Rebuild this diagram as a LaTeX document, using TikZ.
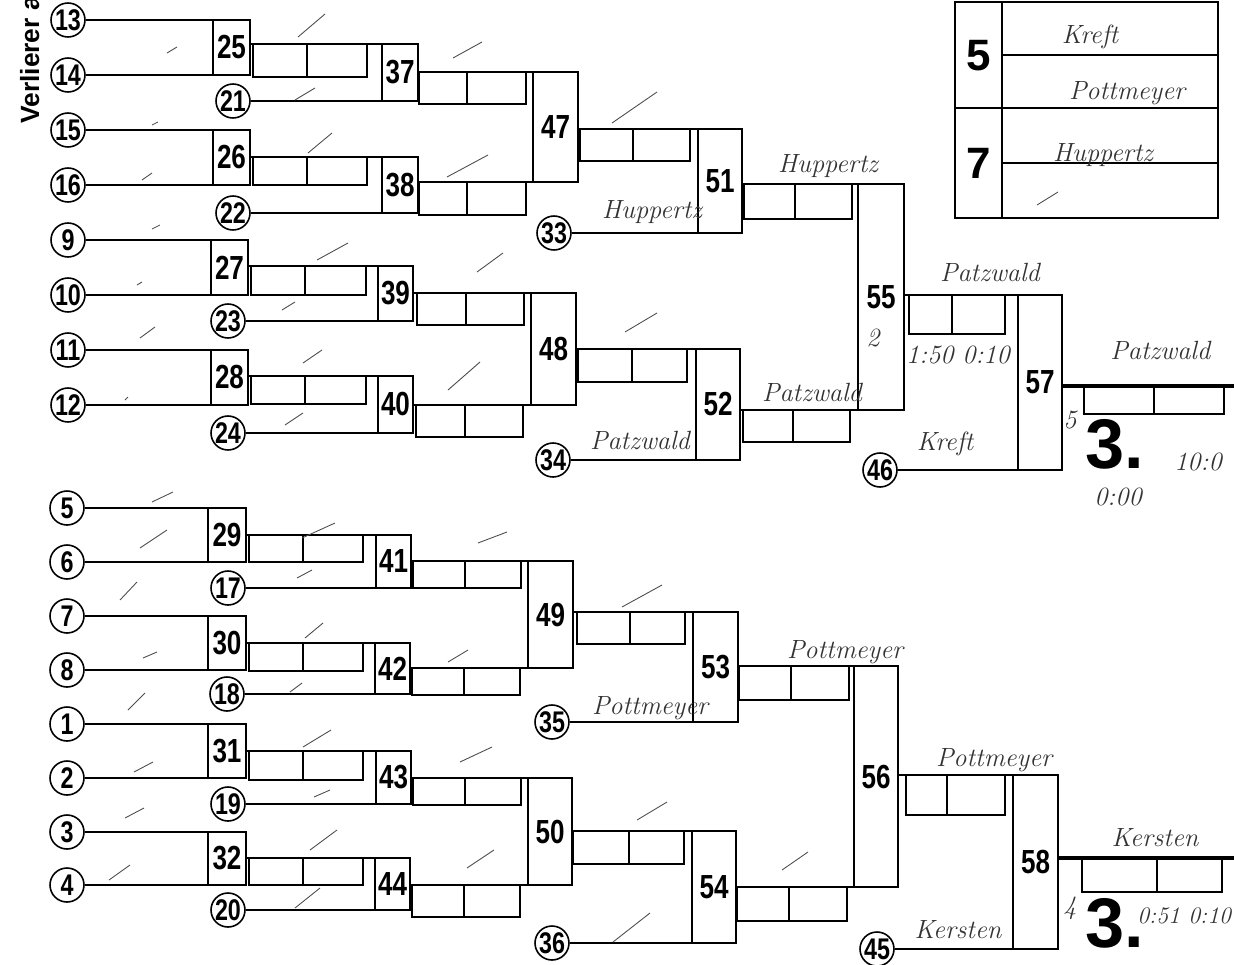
\documentclass[tikz,border=0pt]{standalone}
\usepackage{fontspec}
\newfontfamily\condfont{Liberation Sans}[FakeStretch=0.78]
\newfontfamily\headfont{Liberation Sans}
\usetikzlibrary{calc}

\begin{document}
\begin{tikzpicture}[
    x=0.02cm, y=-0.02cm,
    wire/.style={draw=black, line width=0.9pt},
    final/.style={draw=black, line width=2.6pt},
    match/.style={rectangle, draw=black, line width=0.9pt, inner sep=0pt, outer sep=0pt,
                  font=\condfont\bfseries\fontsize{19}{19}\selectfont},
    player/.style={circle, draw=black, line width=0.9pt, minimum size=0.68cm, inner sep=0pt,
                   font=\condfont\bfseries\fontsize{17}{17}\selectfont},
    score/.style={rectangle, draw=black, line width=0.9pt, inner sep=0pt, outer sep=0pt,
                  anchor=north west},
    hand/.style={inner sep=0pt, text=black!80, font=\itshape\fontsize{15}{15}\selectfont},
    tick/.style={draw=black!70, line width=0.5pt},
    seed/.style={inner sep=0pt, font=\headfont\bfseries\fontsize{25}{25}\selectfont},
    place/.style={inner sep=0pt, font=\headfont\bfseries\fontsize{40}{40}\selectfont}
]
\useasboundingbox (0,0) rectangle (1234,964);
\clip (0,0) rectangle (1234,964);

% side label
\node[rotate=90, anchor=base west, inner sep=0pt,
      font=\headfont\bfseries\fontsize{15}{15}\selectfont] (verl) at (39,124) {Verlierer a};

% match boxes
\foreach \n/\xa/\xb/\ya/\yb in {
    25/213/250/20/75, 26/213/250/130/185, 27/211/248/240/295, 28/211/248/350/405,
    37/382/418/44/101, 38/382/418/157/213, 39/378/413/266/321, 40/378/413/376/433,
    47/533/578/72/182, 48/531/576/293/405,
    51/698/742/129/233, 52/696/740/349/460,
    55/858/904/184/410, 57/1018/1062/295/470,
    29/208/246/508/562, 30/208/246/616/670, 31/208/246/724/778, 32/208/246/832/885,
    41/376/411/535/588, 42/375/410/643/694, 43/376/411/751/804, 44/375/410/858/910,
    49/528/573/561/668, 50/528/572/778/885,
    53/693/738/612/722, 54/692/736/831/943,
    56/854/898/666/887, 58/1013/1058/775/949}
  \node[match, minimum width={(\xb-\xa)*0.02cm}, minimum height={(\yb-\ya)*0.02cm}]
    (m\n) at ({(\xa+\xb)/2},{(\ya+\yb)/2}) {\n};

% players
\foreach \n/\x/\y in {
    13/68/20, 14/68/75, 15/68/130, 16/68/185, 9/68/240, 10/68/295, 11/68/350, 12/68/405,
    21/233/101, 22/233/213, 23/228/321, 24/228/433,
    5/67/508, 6/67/562, 7/67/616, 8/67/670, 1/67/724, 2/67/778, 3/67/832, 4/67/885,
    17/228/588, 18/227/694, 19/228/804, 20/228/910,
    33/554/233, 34/553/460, 35/552/722, 36/552/943, 46/880/470, 45/877/949}
  \node[player] (p\n) at (\x,\y) {\n};

% score cells
\foreach \n/\xa/\xm/\xb/\y/\h in {
    25/253/307/367/44/33, 26/253/307/367/157/28, 27/251/305/366/266/29, 28/251/305/366/376/28,
    37/419/467/526/72/32, 38/419/467/526/182/33, 39/417/466/524/293/32, 40/416/465/523/405/32,
    47/580/633/690/129/32, 48/578/632/687/349/33,
    51/744/795/852/184/35, 52/743/793/850/410/32,
    55/909/952/1005/295/39, 57/1084/1154/1224/386/28,
    29/249/303/363/535/27, 30/249/303/363/643/28, 31/249/303/363/751/29, 32/249/303/363/858/27,
    41/413/465/521/561/27, 42/412/464/520/668/27, 43/413/465/521/778/27, 44/412/464/520/885/32,
    49/577/630/685/612/32, 50/573/629/684/831/33,
    53/739/791/849/666/34, 54/737/789/847/887/34,
    56/906/947/1005/775/40, 58/1082/1157/1222/858/34}
{
  \node[score, minimum width={(\xm-\xa)*0.02cm}, minimum height={\h*0.02cm}] (s\n-a) at (\xa,\y) {};
  \node[score, minimum width={(\xb-\xm)*0.02cm}, minimum height={\h*0.02cm}] (s\n-b) at (\xm,\y) {};
}

% entries
\foreach \a/\b in {13/25,15/26,9/27,11/28,5/29,7/30,1/31,3/32}
  \draw[wire] (p\a) -- (m\b.north west);
\foreach \a/\b in {14/25,16/26,10/27,12/28,6/29,8/30,2/31,4/32,
                   21/37,22/38,23/39,24/40,17/41,18/42,19/43,20/44,
                   33/51,34/52,35/53,36/54,46/57,45/58}
  \draw[wire] (p\a) -- (m\b.south west);

% winners
\foreach \a/\b in {25/37,26/38,27/39,28/40,37/47,39/48,47/51,48/52,51/55,55/57,
                   29/41,30/42,31/43,32/44,41/49,43/50,49/53,50/54,53/56,56/58}
  \draw[wire] (m\b.north west -| m\a.east) -- (m\b.north west);
\foreach \a/\b in {38/47,40/48,52/55,42/49,44/50,54/56}
  \draw[wire] (m\b.south west -| m\a.east) -- (m\b.south west);

\coordinate (end57) at (1234,386);
\coordinate (end58) at (1234,858);
\draw[final] (m57.east |- end57) -- (end57);
\draw[final] (m58.east |- end58) -- (end58);

% seeding table
\draw[wire] (955,2) rectangle (1218,218);
\draw[wire] (1002,2) -- (1002,218);
\draw[wire] (955,108) -- (1218,108);
\draw[wire] (1002,55) -- (1218,55);
\draw[wire] (1002,163) -- (1218,163);
\node[seed] (seed5) at (979,56) {5};
\node[seed] (seed7) at (979,163) {7};

% handwriting
\node[hand] (l1) at (1090,37) {Kreft};
\node[hand] (l2) at (1127,93) {Pottmeyer};
\node[hand] (l3) at (1103,155) {Huppertz};
\node[hand] (w33) at (652,212) {Huppertz};
\node[hand] (w51) at (828,166) {Huppertz};
\node[hand] (w34) at (640,440) {Patzwald};
\node[hand] (w52) at (812,392) {Patzwald};
\node[hand] (w55) at (990,272) {Patzwald};
\node[hand] (r55) at (958,355) {1:50\,\,0:10};
\node[hand] (n55) at (873,338) {2};
\node[hand] (w46) at (945,444) {Kreft};
\node[hand, anchor=west] (w57) at (1110,350) {Patzwald};
\node[hand] (n57) at (1070,420) {5};
\node[hand] (r57a) at (1198,462) {10:0};
\node[hand] (r57b) at (1118,497) {0:00};
\node[place, anchor=base west] (third57) at (1085,468) {3.};

\node[hand] (w35) at (650,708) {Pottmeyer};
\node[hand] (w53) at (845,652) {Pottmeyer};
\node[hand] (w56) at (994,760) {Pottmeyer};
\node[hand] (w45) at (958,930) {Kersten};
\node[hand] (w58) at (1155,838) {Kersten};
\node[hand] (n58) at (1070,908) {4};
\node[hand, anchor=west, font=\itshape\fontsize{13.5}{13.5}\selectfont] (r58) at (1137,916) {0:51 0:10};
\node[place, anchor=base west] (third58) at (1085,947) {3.};

% pen strokes
\foreach \xa/\ya/\xb/\yb in {
    298/37/325/14, 167/53/177/47, 295/100/315/88, 152/125/158/122, 308/153/332/133,
    142/180/152/173, 152/229/160/225, 453/58/482/42, 612/123/657/92, 447/177/488/155,
    317/260/348/243, 477/272/503/253, 137/285/142/282, 282/310/295/302, 140/338/155/327,
    303/363/322/350, 125/400/128/397, 448/390/480/362, 285/425/303/413, 625/332/657/313,
    1037/205/1058/192,
    152/502/173/492, 140/548/167/530, 302/538/335/523, 297/578/312/570, 120/600/137/582,
    305/638/323/623, 143/658/157/652, 290/692/302/683, 128/710/145/693, 478/543/507/532,
    622/607/662/585, 448/662/468/650, 303/747/331/730, 134/772/153/762, 460/762/492/747,
    314/797/330/790, 125/818/144/808, 310/850/337/830, 467/868/494/850, 109/880/130/865,
    295/908/320/888, 637/820/667/802, 782/870/808/852, 613/942/650/913}
  \draw[tick] (\xa,\ya) -- (\xb,\yb);
\end{tikzpicture}
\end{document}
